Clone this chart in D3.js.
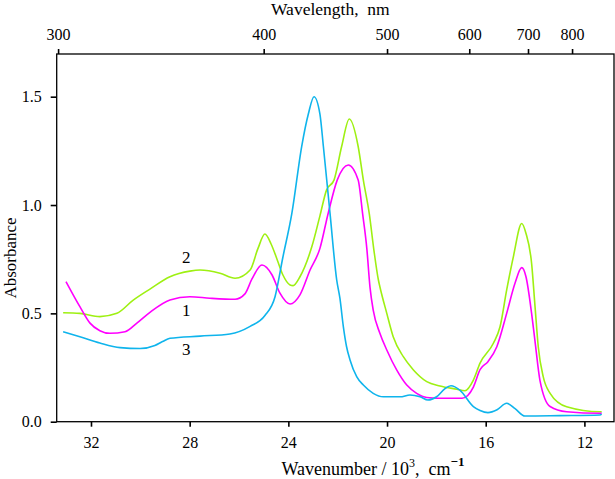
<!DOCTYPE html>
<html><head><meta charset="utf-8">
<script src="https://cdn.jsdelivr.net/npm/d3@7"></script>
<style>body{margin:0;background:#fff}svg{display:block}text{font-family:"Liberation Serif","Times New Roman",serif;fill:#000}</style>
</head><body><svg id="c" width="615" height="479"></svg>
<script>
// Curve 1 (magenta)
const wn1 = [33.01,32.45,32.04,31.64,31.23,30.62,30.14,29.61,28.80,27.99,27.18,26.16,25.76,25.47,25.07,24.66,24.34,23.93,23.53,23.12,22.72,22.39,22.02,21.57,21.17,20.99,20.82,20.69,20.56,20.29,20.01,19.61,19.20,18.80,18.39,17.65,16.96,16.50,16.23,15.91,15.55,15.15,14.81,14.54,14.37,14.14,14.00,13.80,13.39,12.72,11.37,11.30];
const abs1 = [0.646,0.531,0.455,0.42,0.408,0.415,0.455,0.505,0.562,0.577,0.57,0.565,0.59,0.66,0.723,0.677,0.593,0.543,0.585,0.70,0.80,0.96,1.115,1.185,1.115,0.96,0.80,0.62,0.515,0.408,0.331,0.239,0.169,0.131,0.112,0.108,0.108,0.16,0.24,0.277,0.346,0.50,0.64,0.711,0.67,0.50,0.37,0.19,0.07,0.046,0.039,0.04];
// Curve 2 (green)
const wn2 = [33.13,32.45,31.64,30.95,30.30,29.61,28.80,27.99,27.58,26.77,26.16,25.55,25.23,24.95,24.70,24.46,24.22,23.93,23.81,23.53,23.05,22.72,22.45,22.15,21.84,21.53,21.17,20.96,20.72,20.53,20.35,20.29,20.01,19.75,19.34,18.93,18.39,17.85,17.18,16.84,16.50,16.23,15.69,15.42,15.15,14.88,14.54,14.37,14.14,14.00,13.87,13.67,13.39,12.72,11.37,11.30];
const abs2 = [0.503,0.50,0.485,0.50,0.56,0.612,0.669,0.695,0.70,0.685,0.662,0.70,0.80,0.866,0.82,0.75,0.677,0.631,0.628,0.669,0.807,0.95,1.07,1.115,1.27,1.397,1.27,1.115,0.96,0.79,0.654,0.623,0.50,0.392,0.30,0.239,0.185,0.165,0.15,0.143,0.192,0.27,0.362,0.438,0.608,0.761,0.915,0.87,0.731,0.53,0.346,0.208,0.131,0.069,0.046,0.046];
// Curve 3 (cyan)
const wn3 = [33.13,32.45,31.64,30.82,30.01,29.41,29.10,28.80,27.58,26.37,25.55,24.95,24.54,24.22,23.86,23.46,23.19,22.96,22.72,22.58,22.31,22.04,21.91,21.77,21.64,21.50,21.23,20.96,20.56,20.15,19.47,19.07,18.66,18.34,17.99,17.65,17.41,17.04,16.50,16.23,15.91,15.54,15.15,14.81,14.41,12.99,11.37,11.30];
const abs3 = [0.415,0.392,0.363,0.342,0.338,0.352,0.37,0.385,0.395,0.405,0.44,0.49,0.577,0.76,0.96,1.27,1.42,1.50,1.42,1.27,0.96,0.654,0.57,0.438,0.346,0.285,0.208,0.169,0.131,0.115,0.115,0.123,0.115,0.10,0.115,0.153,0.166,0.145,0.07,0.052,0.042,0.055,0.085,0.06,0.026,0.028,0.031,0.035];

const seriesNames = ["1","2","3"];
const seriesColors = ["#ff00ff","#9ef012","#0fb4ec"];
const labelPos = [[28.14,0.488],[28.14,0.732],[28.14,0.308]];

const xTicks = [32,28,24,20,16,12];
const yTicks = [0.0,0.5,1.0,1.5];
const topTicks = [300,400,500,600,700,800];

const svg = d3.select("#c");
const L=56.7, R=614, T=54, B=421.7;
const x = d3.scaleLinear().domain([33.39,10.80]).range([L,R]);
const y = d3.scaleLinear().domain([0,1.697]).range([B,T]);

const series = [[wn1,abs1],[wn2,abs2],[wn3,abs3]];
const line = d3.line().x(d=>x(d[0])).y(d=>y(d[1])).curve(d3.curveMonotoneX);
[1,0,2].forEach(i=>{
  const pts = series[i][0].map((w,k)=>[w,series[i][1][k]]);
  svg.append("path").datum(pts).attr("d",line).attr("fill","none")
    .attr("stroke",seriesColors[i]).attr("stroke-width",1.6);
});

// frame
svg.append("rect").attr("x",L).attr("y",T).attr("width",R-L).attr("height",B-T)
  .attr("fill","none").attr("stroke","#000").attr("stroke-width",1.3);

const gx = svg.append("g").attr("transform",`translate(0,${B})`)
  .call(d3.axisBottom(x).tickValues(xTicks).tickSize(5).tickPadding(10).tickFormat(d3.format("d")));
const gy = svg.append("g").attr("transform",`translate(${L},0)`)
  .call(d3.axisLeft(y).tickValues(yTicks).tickSize(6).tickPadding(9).tickFormat(d3.format(".1f")));
const gt = svg.append("g").attr("transform",`translate(0,${T})`)
  .call(d3.axisTop(x).tickValues(topTicks.map(n=>1e4/n)).tickSize(5).tickPadding(9).tickFormat((d,i)=>topTicks[i]));
[gx,gy,gt].forEach(g=>{
  g.select(".domain").remove();
  g.selectAll(".tick line").attr("stroke","#000").attr("stroke-width",1.6);
  g.selectAll(".tick text").attr("font-size",16).attr("font-family","Liberation Serif");
});

// titles
svg.append("text").attr("x",271).attr("y",15).attr("font-size",17.5).style("white-space","pre")
  .text("Wavelength,  nm");
svg.append("text").attr("transform","translate(16,258) rotate(-90)").attr("text-anchor","middle")
  .attr("font-size",17).text("Absorbance");
const bt = svg.append("text").attr("x",281.5).attr("y",475).attr("font-size",18).style("white-space","pre");
bt.append("tspan").text("Wavenumber / 10");
bt.append("tspan").attr("font-size",12).attr("dy",-8).text("3");
bt.append("tspan").attr("dy",8).text(",  cm");
bt.append("tspan").attr("font-size",13).attr("font-weight","bold").attr("dy",-9).text("−1");

// curve labels
seriesNames.forEach((n,i)=>{
  svg.append("text").attr("x",x(labelPos[i][0])).attr("y",y(labelPos[i][1]))
    .attr("text-anchor","middle").attr("font-size",17).text(n);
});
</script></body></html>
